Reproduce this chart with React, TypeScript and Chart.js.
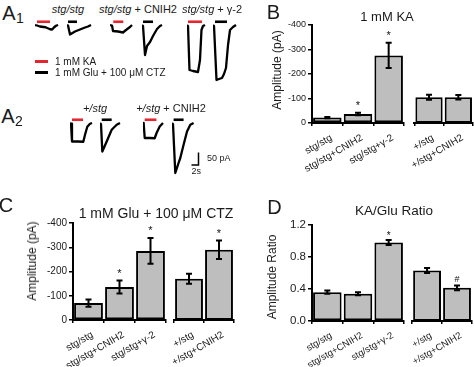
import React, { useEffect, useRef } from 'react';
import { Chart, registerables } from 'chart.js';

Chart.register(...registerables);

const FONT = '"Liberation Sans", Arial, Helvetica, sans-serif';
Chart.defaults.font.family = FONT;

// ---------- Panels B, C, D : bar data ----------
const stgLabels = ['stg/stg', 'stg/stg+CNIH2', 'stg/stg+γ-2'];
const hetLabels = ['+/stg', '+/stg+CNIH2'];

const kaAmp = [-22, -37, -276, -105, -105];
const kaErr = [3, 5, 52, 10, 9];
const kaSig = ['', '*', '*', '', ''];

const gluAmp = [-70, -136, -285, -170, -290];
const gluErr = [15, 27, 53, 21, 38];
const gluSig = ['', '*', '*', '', '*'];

const ratioVal = [0.36, 0.34, 0.98, 0.625, 0.41];
const ratioErr = [0.02, 0.02, 0.03, 0.03, 0.03];
const ratioSig = ['', '', '*', '', '#'];

const ampTicks = [0, -100, -200, -300, -400];
const ratioTicks = [0, 0.2, 0.4, 0.6, 0.8, 1.0, 1.2];

// ---------- Panel A : example traces, [time (s), current (pA)] ----------
const a1KaStg = [[0, 0], [0.6, -2], [1.4, -6], [3, -9], [4.3, -17], [4.9, -18], [5.4, -10], [6, -3], [6.6, 0]];
const a1GluStg = [[0, 0], [0.29, -2], [0.86, -38], [2.29, -26], [3.71, -18], [5.14, -10], [6, -6], [6.86, 0]];
const a1KaCnih = [[0, 0], [0.57, -2], [0.86, -24], [2.29, -26], [3.71, -30], [4.57, -20], [5.71, -8], [6.29, 0]];
const a1GluCnih = [[0, 0], [0.29, -4], [0.86, -120], [1.43, -84], [2.29, -68], [3.14, -44], [4.29, -16], [5.14, -4], [5.71, 0]];
const a1KaG2 = [[0, 0], [0.29, -4], [0.71, -180], [1.71, -184], [3.14, -188], [3.71, -140], [4.14, -20], [4.57, -4], [5.14, 0]];
const a1GluG2 = [[0, 0], [0.29, -4], [1, -220], [1.71, -216], [2.57, -212], [3.14, -196], [3.71, -172], [4.29, -80], [4.86, -20], [5.71, -8], [6.57, 0]];
const a2KaHet = [[0, 0], [0.29, -3], [0.57, -74], [2.29, -74], [3.8, -75], [4.29, -47], [4.94, -15], [5.71, -3], [6.29, 0]];
const a2GluHet = [[0, 0], [0.29, -5], [0.66, -114], [1.91, -74], [3.34, -27], [4.77, -7], [5.71, 0]];
const a2KaHetCnih = [[0, 0], [0.2, -3], [0.49, -60], [1.91, -60], [3.34, -61], [3.91, -39], [4.77, -14], [5.71, 0]];
const a2GluHetCnih = [[0, 0], [0.29, -5], [0.94, -200], [1.8, -163], [2.37, -140], [3.31, -87], [4.29, -34], [5.23, -7], [6.17, 0]];

// drug application periods [start s, end s]
const a1KaStgApp = [0.57, 4.29];
const a1GluStgApp = [0.29, 2.86];
const a1KaCnihApp = [0.94, 3.8];
const a1GluCnihApp = [0.29, 3.14];
const a1KaG2App = [0.29, 4.29];
const a1GluG2App = [0.57, 4.0];
const a2KaHetApp = [0.57, 3.71];
const a2GluHetApp = [0.49, 3.34];
const a2KaHetCnihApp = [0.49, 3.83];
const a2GluHetCnihApp = [0.46, 3.31];

const scaleBarTime = 2; // s
const scaleBarCurrent = 50; // pA

// ---------- styling / layout ----------
const RED = '#e3262f';
const BAR_FILL = '#bebebe';
const TEXT = '#1a1a1a';
const APP_LEVEL = 13; // pA above baseline for application bars
const TRACE_SPAN = 8; // s  -> 28 px
const TRACE_MIN = -260;
const TRACE_MAX = 20; // -> 70 px

const traceLayout = [
  { pts: a1KaStg, app: a1KaStgApp, color: RED, left: 35, top: 20 },
  { pts: a1GluStg, app: a1GluStgApp, color: '#000', left: 67, top: 20 },
  { pts: a1KaCnih, app: a1KaCnihApp, color: RED, left: 110, top: 20 },
  { pts: a1GluCnih, app: a1GluCnihApp, color: '#000', left: 142, top: 20 },
  { pts: a1KaG2, app: a1KaG2App, color: RED, left: 187, top: 20 },
  { pts: a1GluG2, app: a1GluG2App, color: '#000', left: 213, top: 20 },
  { pts: a2KaHet, app: a2KaHetApp, color: RED, left: 70, top: 118 },
  { pts: a2GluHet, app: a2GluHetApp, color: '#000', left: 100, top: 118 },
  { pts: a2KaHetCnih, app: a2KaHetCnihApp, color: RED, left: 143, top: 118 },
  { pts: a2GluHetCnih, app: a2GluHetCnihApp, color: '#000', left: 172, top: 118 },
];

function baseOptions() {
  return {
    responsive: false,
    animation: false as const,
    events: [] as any[],
    plugins: { legend: { display: false }, tooltip: { enabled: false }, title: { display: false } },
  };
}

function traceConfig(pts: number[][], app: number[], color: string) {
  return () => ({
    type: 'scatter',
    data: {
      datasets: [
        {
          data: pts.map(([x, y]) => ({ x, y })),
          showLine: true,
          borderColor: '#000',
          borderWidth: 2.3,
          pointRadius: 0,
          tension: 0,
          borderJoinStyle: 'round',
          clip: false,
        },
        {
          data: [{ x: app[0], y: APP_LEVEL }, { x: app[1], y: APP_LEVEL }],
          showLine: true,
          borderColor: color,
          borderWidth: 2.6,
          pointRadius: 0,
          clip: false,
        },
      ],
    },
    options: {
      ...baseOptions(),
      layout: { padding: 0 },
      scales: {
        x: { type: 'linear', display: false, min: 0, max: TRACE_SPAN },
        y: { type: 'linear', display: false, min: TRACE_MIN, max: TRACE_MAX },
      },
    },
  });
}

function scaleBarConfig() {
  return () => ({
    type: 'scatter',
    data: {
      datasets: [
        {
          data: [
            { x: 0, y: 0 },
            { x: scaleBarTime, y: 0 },
            { x: scaleBarTime, y: scaleBarCurrent },
          ],
          showLine: true,
          borderColor: '#000',
          borderWidth: 1.5,
          pointRadius: 0,
          clip: false,
        },
      ],
    },
    options: {
      ...baseOptions(),
      layout: { padding: 0 },
      scales: {
        x: { type: 'linear', display: false, min: -1, max: 3 },
        y: { type: 'linear', display: false, min: -12, max: 60 },
      },
    },
  });
}

function errorPlugin(errors: number[], sig: string[], markSize: number, markGap: number) {
  return {
    id: 'errbars',
    afterDatasetsDraw(chart: any) {
      const { ctx } = chart;
      const meta = chart.getDatasetMeta(0);
      const ys = chart.scales.y;
      const vals = chart.data.datasets[0].data;
      ctx.save();
      ctx.strokeStyle = '#000';
      ctx.lineWidth = 2;
      meta.data.forEach((bar: any, i: number) => {
        const v = vals[i];
        const e = errors[i];
        const p1 = ys.getPixelForValue(v - e);
        const p2 = ys.getPixelForValue(v + e);
        const top = Math.min(p1, p2);
        const bot = Math.max(p1, p2);
        const x = bar.x;
        ctx.beginPath();
        ctx.moveTo(x, top);
        ctx.lineTo(x, bot);
        ctx.moveTo(x - 3, top);
        ctx.lineTo(x + 3, top);
        ctx.moveTo(x - 3, bot);
        ctx.lineTo(x + 3, bot);
        ctx.stroke();
        const s = sig[i];
        if (s) {
          ctx.fillStyle = '#111';
          ctx.font = `${markSize}px ${FONT}`;
          ctx.textAlign = 'center';
          ctx.textBaseline = 'alphabetic';
          const lift = s === '*' ? 0.58 : 0.36;
          ctx.fillText(s, x, top - markGap + lift * markSize);
        }
      });
      ctx.restore();
    },
  };
}

interface BarOpts {
  labels: string[];
  values: number[];
  errors: number[];
  sig: string[];
  min: number;
  max: number;
  ticks: number[];
  reverse: boolean;
  showY: boolean;
  yFont: number;
  xFont: number;
  markSize: number;
  markGap: number;
  fmt: (v: number) => string;
  padding: any;
  xHeight: number;
}

function barConfig(o: BarOpts) {
  return () => {
    const y: any = {
      type: 'linear',
      display: o.showY,
      min: o.min,
      max: o.max,
      reverse: o.reverse,
      grid: { drawOnChartArea: false, drawTicks: true, tickLength: 4, color: '#000', lineWidth: 1.5 },
      border: { display: true, color: '#000', width: 2 },
      ticks: { padding: 2, color: TEXT, font: { size: o.yFont, family: FONT }, callback: (v: any) => o.fmt(Number(v)) },
      afterBuildTicks: (s: any) => {
        s.ticks = o.ticks.map((v) => ({ value: v }));
      },
    };
    if (o.showY) {
      y.afterFit = (s: any) => {
        s.width = 40;
      };
    }
    return {
      type: 'bar',
      data: {
        labels: o.labels,
        datasets: [
          {
            data: o.values,
            backgroundColor: BAR_FILL,
            borderColor: '#000',
            borderWidth: 2,
            borderSkipped: false,
            barPercentage: 0.93,
            categoryPercentage: 1,
          },
        ],
      },
      options: {
        ...baseOptions(),
        layout: { padding: o.padding },
        scales: {
          x: {
            type: 'category',
            offset: true,
            grid: { offset: true, drawOnChartArea: false, drawTicks: true, tickLength: 3, color: '#000', lineWidth: 1.5 },
            border: { display: true, color: '#000', width: 2 },
            ticks: {
              autoSkip: false,
              minRotation: 30,
              maxRotation: 30,
              padding: 6,
              labelOffset: 4,
              color: TEXT,
              font: { size: o.xFont, family: FONT },
            },
            afterFit: (s: any) => {
              s.height = o.xHeight;
            },
          },
          y,
        },
      },
      plugins: [errorPlugin(o.errors, o.sig, o.markSize, o.markGap)],
    };
  };
}

const fmtInt = (v: number) => String(Math.round(v));
const fmtRatio = (v: number) => v.toFixed(1);

function ChartBox(props: { left: number; top: number; width: number; height: number; config: () => any }) {
  const ref = useRef<HTMLCanvasElement | null>(null);
  useEffect(() => {
    const chart = new Chart(ref.current as HTMLCanvasElement, props.config() as any);
    return () => chart.destroy();
  }, []);
  return (
    <canvas
      ref={ref}
      width={props.width}
      height={props.height}
      style={{ position: 'absolute', left: props.left, top: props.top, width: props.width, height: props.height }}
    />
  );
}

function Txt(props: {
  x: number;
  y: number;
  size: number;
  anchor?: 'center' | 'left';
  rotate?: number;
  children: any;
}) {
  const { x, y, size, anchor = 'center', rotate = 0 } = props;
  const tr = anchor === 'center' ? `translate(-50%,-50%) rotate(${rotate}deg)` : `translate(0,-50%)`;
  return (
    <div
      style={{
        position: 'absolute',
        left: x,
        top: y,
        transform: tr,
        fontSize: size,
        lineHeight: 1,
        whiteSpace: 'nowrap',
        color: TEXT,
        fontFamily: FONT,
      }}
    >
      {props.children}
    </div>
  );
}

function Swatch(props: { x: number; y: number; color: string }) {
  return (
    <div style={{ position: 'absolute', left: props.x, top: props.y, width: 13, height: 2.5, background: props.color }} />
  );
}

export default function App() {
  const g1 = (a: any[]) => a.slice(0, 3);
  const g2 = (a: any[]) => a.slice(3, 5);
  return (
    <div
      style={{
        position: 'absolute',
        left: 0,
        top: 0,
        width: 474,
        height: 367,
        background: '#fff',
        overflow: 'hidden',
        fontFamily: FONT,
      }}
    >
      {/* Panel A traces */}
      {traceLayout.map((t, i) => (
        <ChartBox key={'tr' + i} left={t.left} top={t.top} width={28} height={70} config={traceConfig(t.pts, t.app, t.color)} />
      ))}
      <ChartBox left={188} top={150} width={14} height={18} config={scaleBarConfig()} />

      {/* Panel B */}
      <ChartBox
        left={272}
        top={17}
        width={135}
        height={156}
        config={barConfig({
          labels: stgLabels, values: g1(kaAmp), errors: g1(kaErr), sig: g1(kaSig),
          min: -400, max: 0, ticks: ampTicks, reverse: true, showY: true, yFont: 9, xFont: 10,
          markSize: 11, markGap: 10, fmt: fmtInt, padding: { top: 8, left: 0, right: 3, bottom: 0 }, xHeight: 50,
        })}
      />
      <ChartBox
        left={401}
        top={17}
        width={74}
        height={156}
        config={barConfig({
          labels: hetLabels, values: g2(kaAmp), errors: g2(kaErr), sig: g2(kaSig),
          min: -400, max: 0, ticks: ampTicks, reverse: true, showY: false, yFont: 9, xFont: 10,
          markSize: 11, markGap: 10, fmt: fmtInt, padding: { top: 8, left: 12, right: 2, bottom: 0 }, xHeight: 50,
        })}
      />

      {/* Panel C */}
      <ChartBox
        left={33}
        top={215}
        width={136}
        height={152}
        config={barConfig({
          labels: stgLabels, values: g1(gluAmp), errors: g1(gluErr), sig: g1(gluSig),
          min: -400, max: 0, ticks: ampTicks, reverse: true, showY: true, yFont: 10, xFont: 10,
          markSize: 11, markGap: 10, fmt: fmtInt, padding: { top: 8, left: 0, right: 3, bottom: 0 }, xHeight: 47,
        })}
      />
      <ChartBox
        left={161}
        top={215}
        width={75}
        height={152}
        config={barConfig({
          labels: hetLabels, values: g2(gluAmp), errors: g2(gluErr), sig: g2(gluSig),
          min: -400, max: 0, ticks: ampTicks, reverse: true, showY: false, yFont: 10, xFont: 10,
          markSize: 11, markGap: 10, fmt: fmtInt, padding: { top: 8, left: 12, right: 2, bottom: 0 }, xHeight: 47,
        })}
      />

      {/* Panel D */}
      <ChartBox
        left={272}
        top={216}
        width={135}
        height={152}
        config={barConfig({
          labels: stgLabels, values: g1(ratioVal), errors: g1(ratioErr), sig: g1(ratioSig),
          min: 0, max: 1.2, ticks: ratioTicks, reverse: false, showY: true, yFont: 11.5, xFont: 9.5,
          markSize: 10, markGap: 7, fmt: fmtRatio, padding: { top: 8, left: 0, right: 3, bottom: 0 }, xHeight: 47,
        })}
      />
      <ChartBox
        left={400}
        top={216}
        width={74}
        height={152}
        config={barConfig({
          labels: hetLabels, values: g2(ratioVal), errors: g2(ratioErr), sig: g2(ratioSig),
          min: 0, max: 1.2, ticks: ratioTicks, reverse: false, showY: false, yFont: 11.5, xFont: 9.5,
          markSize: 9, markGap: 7, fmt: fmtRatio, padding: { top: 8, left: 12, right: 2, bottom: 0 }, xHeight: 47,
        })}
      />

      {/* Panel A text */}
      <Txt x={9} y={12.5} size={20}>A</Txt>
      <Txt x={20} y={18} size={14}>1</Txt>
      <Txt x={8} y={116} size={20}>A</Txt>
      <Txt x={19} y={121} size={14}>2</Txt>

      <Txt x={68} y={9} size={11}><i>stg/stg</i></Txt>
      <Txt x={138} y={9} size={11}><i>stg/stg</i> + CNIH2</Txt>
      <Txt x={212} y={9} size={11}><i>stg/stg</i> + γ-2</Txt>
      <Txt x={95} y={108} size={11}><i>+/stg</i></Txt>
      <Txt x={171} y={108} size={11}><i>+/stg</i> + CNIH2</Txt>

      <Swatch x={35} y={60} color={RED} />
      <Txt x={55} y={61.5} size={10} anchor="left">1 mM KA</Txt>
      <Swatch x={35} y={71} color="#000" />
      <Txt x={55} y={72.5} size={10} anchor="left">1 mM Glu + 100 μM CTZ</Txt>

      <Txt x={207} y={157.5} size={9} anchor="left">50 pA</Txt>
      <Txt x={191.5} y={171} size={9} anchor="left">2s</Txt>

      {/* Panel B text */}
      <Txt x={273.5} y={12} size={20}>B</Txt>
      <Txt x={387} y={16} size={13}>1 mM KA</Txt>
      <Txt x={277} y={70} size={12} rotate={-90}>Amplitude (pA)</Txt>

      {/* Panel C text */}
      <Txt x={6} y={205} size={20}>C</Txt>
      <Txt x={156} y={212.5} size={14}>1 mM Glu + 100 μM CTZ</Txt>
      <Txt x={32} y={261} size={12} rotate={-90}>Amplitude (pA)</Txt>

      {/* Panel D text */}
      <Txt x={274.5} y={206.5} size={20}>D</Txt>
      <Txt x={394} y={211} size={13.5}>KA/Glu Ratio</Txt>
      <Txt x={272} y={277} size={12} rotate={-90}>Amplitude Ratio</Txt>
    </div>
  );
}
